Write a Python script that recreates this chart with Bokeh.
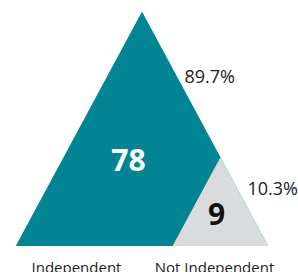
from bokeh.plotting import figure
from bokeh.models import Range1d
from bokeh.core.properties import value
from bokeh.embed import file_html
from bokeh.resources import INLINE

categories = ["Independent", "Not Independent"]
counts = [78, 9]
shares = ["89.7%", "10.3%"]

TEAL = "#038494"
GRAY = "#DADBDC"
FONT = "Open Sans"

W, H = 298, 272
p = figure(width=W, height=H, output_backend="svg", toolbar_location=None,
           x_range=Range1d(0, W), y_range=Range1d(H, 0), min_border=0)
p.axis.visible = False
p.grid.visible = False
p.outline_line_color = None

# big triangle geometry (pixel space)
left, right, base_y, apex_y = 16, 267, 245, 12
apex_x = (left + right) / 2
small = 0.375  # scale of the "not independent" corner triangle
sl = right - small * (right - left)
stx = right - small * (right - apex_x)
sty = base_y - small * (base_y - apex_y)

p.patch([left, apex_x, right], [base_y, apex_y, base_y], fill_color=TEAL, line_color=TEAL)
p.patch([sl, stx, right], [base_y, sty, base_y], fill_color=GRAY, line_color=GRAY)
p.line([stx, right], [sty, base_y], line_color="#BFE0E6", line_width=1)

# counts
p.text(x=[128, 216], y=[159, 213], text=[str(c) for c in counts],
       text_color=["white", "#111111"], text_font=value(FONT), text_font_style="bold",
       text_font_size="30px", text_align="center", text_baseline="middle")
# shares
p.text(x=[184, 247], y=[75, 187], text=shares, text_color="#222222",
       text_font=value(FONT), text_font_size="18px", text_align="left", text_baseline="middle")
# categories
p.text(x=[76, 214], y=[266, 266], text=categories, text_color="#222222",
       text_font=value(FONT), text_font_size="15px", text_align="center", text_baseline="middle")

open("out.html", "w").write(file_html(p, INLINE))
